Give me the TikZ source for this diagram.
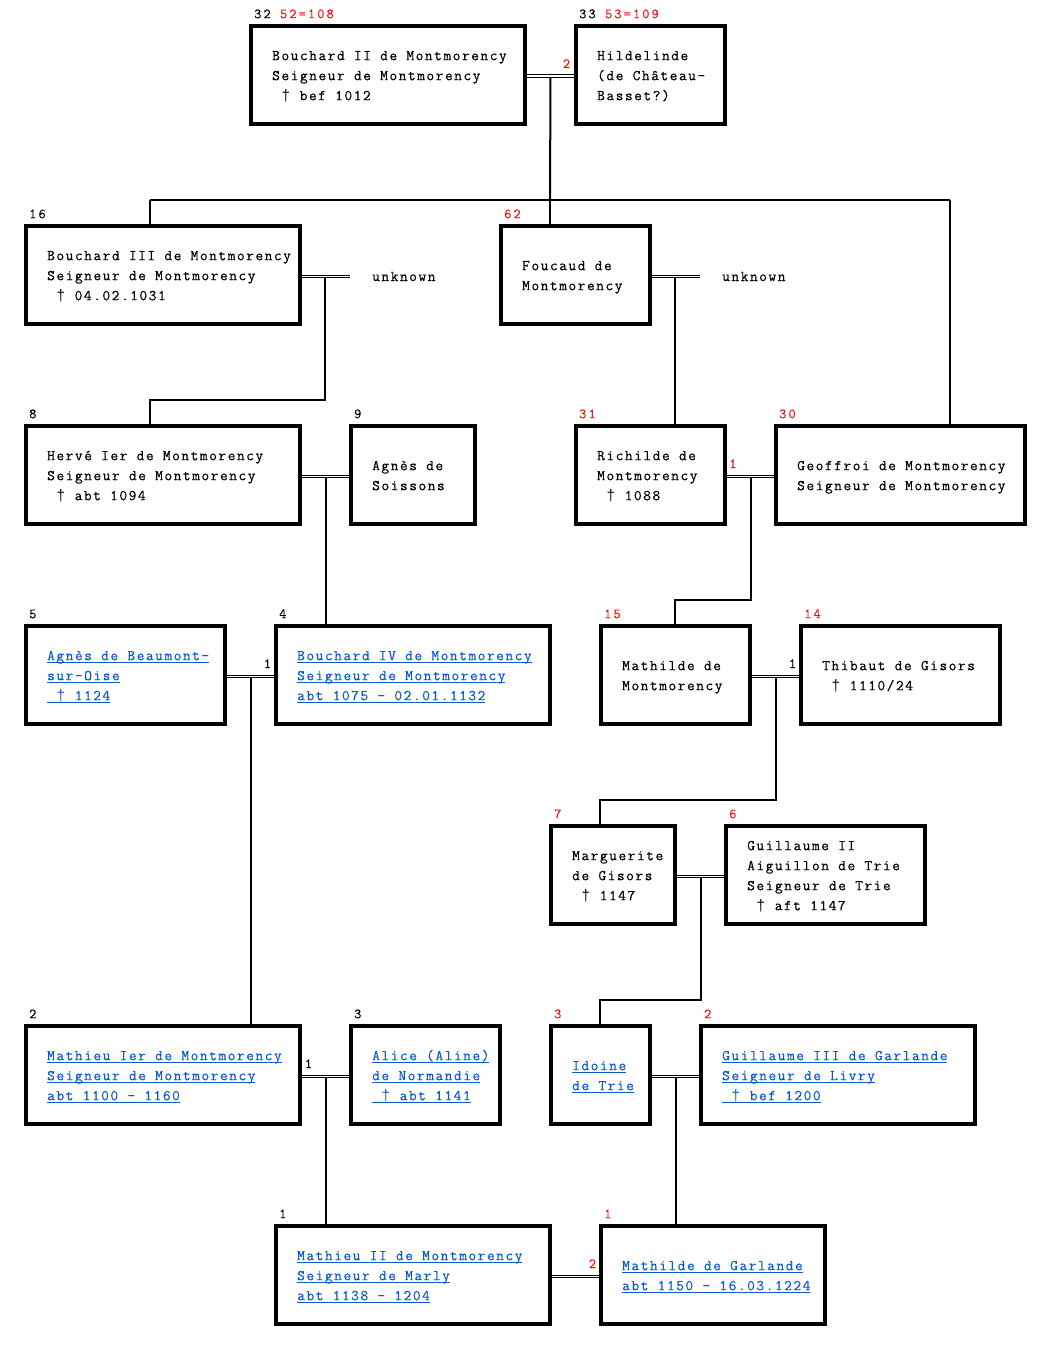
\documentclass[tikz,border=0pt]{standalone}
\usepackage{fontspec}
\newfontfamily\mono{Latin Modern Mono}[LetterSpace=10.2,FakeBold=0.4]
\newfontfamily\labmono{Latin Modern Mono}[LetterSpace=15,FakeBold=0.4]
\newfontfamily\dagf{Liberation Mono}
\usetikzlibrary{calc}
\pgfdeclarelayer{bg}
\pgfsetlayers{bg,main}
\definecolor{lnk}{RGB}{10,90,205}
\definecolor{lbred}{RGB}{240,20,20}
\newcommand\bodyfont{\mono\fontsize{15pt}{20pt}\selectfont}
\newcommand\labfont{\labmono\fontsize{14pt}{16pt}\selectfont}
\newcommand\dg{{\dagf †}}
\newcommand\pl[1]{\strut#1}
\newcommand\lk[1]{\strut\setbox0\hbox{#1}\rlap{\color{lnk}\rule[-3pt]{\wd0}{0.9pt}}\box0}
\tikzset{
  pbox/.style={draw, line width=3.5pt, outer sep=0pt, inner sep=0pt, minimum height=98pt},
  ptext/.style={font=\bodyfont, align=left, inner sep=0pt, anchor=west},
  lnktext/.style={ptext, text=lnk},
  lab/.style={font=\labfont, inner sep=0pt, anchor=base west},
  mnum/.style={font=\labfont, inner sep=0pt, anchor=base},
  conn/.style={line width=2pt},
  marr/.style={double, double distance=1.4pt, line width=1pt},
}
\begin{document}
\begin{tikzpicture}[x=1pt,y=-1pt]
\useasboundingbox (0,0) rectangle (1051,1351);
% ---------- boxes ----------
\node[pbox, minimum width=274pt] (b32) at (388,75.2) {};
\node[pbox, minimum width=149pt] (b33) at (650.5,75.2) {};
\node[pbox, minimum width=274pt] (b16) at (163,275.2) {};
\node[pbox, minimum width=149pt] (b62) at (575.5,275.2) {};
\node[pbox, minimum width=274pt] (b8) at (163,475.2) {};
\node[pbox, minimum width=124pt] (b9) at (413,475.2) {};
\node[pbox, minimum width=149pt] (b31) at (650.5,475.2) {};
\node[pbox, minimum width=249pt] (b30) at (900.5,475.2) {};
\node[pbox, minimum width=199pt] (b5) at (125.5,675.2) {};
\node[pbox, minimum width=274pt] (b4) at (413,675.2) {};
\node[pbox, minimum width=149pt] (b15) at (675.5,675.2) {};
\node[pbox, minimum width=199pt] (b14) at (900.5,675.2) {};
\node[pbox, minimum width=124pt] (b7) at (613,875.2) {};
\node[pbox, minimum width=199pt] (b6) at (825.5,875.2) {};
\node[pbox, minimum width=274pt] (b2) at (163,1075.2) {};
\node[pbox, minimum width=149pt] (b3) at (425.5,1075.2) {};
\node[pbox, minimum width=99pt] (bi) at (600.5,1075.2) {};
\node[pbox, minimum width=274pt] (bg) at (838,1075.2) {};
\node[pbox, minimum width=274pt] (b1) at (413,1275.2) {};
\node[pbox, minimum width=224pt] (bm) at (713,1275.2) {};
% ---------- texts ----------
\node[ptext] (t32) at ([xshift=21pt,yshift=-1pt]b32.west) {\pl{Bouchard II de Montmorency}\\\pl{Seigneur de Montmorency}\\\pl{~\dg{} bef 1012}};
\node[ptext] (t33) at ([xshift=21pt,yshift=-1pt]b33.west) {\pl{Hildelinde}\\\pl{(de Château-}\\\pl{Basset?)}};
\node[ptext] (t16) at ([xshift=21pt,yshift=-1pt]b16.west) {\pl{Bouchard III de Montmorency}\\\pl{Seigneur de Montmorency}\\\pl{~\dg{} 04.02.1031}};
\node[ptext] (t62) at ([xshift=21pt,yshift=-1pt]b62.west) {\pl{Foucaud de}\\\pl{Montmorency}};
\node[ptext] (t8) at ([xshift=21pt,yshift=-1pt]b8.west) {\pl{Hervé Ier de Montmorency}\\\pl{Seigneur de Montmorency}\\\pl{~\dg{} abt 1094}};
\node[ptext] (t9) at ([xshift=21pt,yshift=-1pt]b9.west) {\pl{Agnès de}\\\pl{Soissons}};
\node[ptext] (t31) at ([xshift=21pt,yshift=-1pt]b31.west) {\pl{Richilde de}\\\pl{Montmorency}\\\pl{~\dg{} 1088}};
\node[ptext] (t30) at ([xshift=21pt,yshift=-1pt]b30.west) {\pl{Geoffroi de Montmorency}\\\pl{Seigneur de Montmorency}};
\node[lnktext] (t5) at ([xshift=21pt,yshift=-1pt]b5.west) {\lk{Agnès de Beaumont-}\\\lk{sur-Oise}\\\lk{~\dg{} 1124}};
\node[lnktext] (t4) at ([xshift=21pt,yshift=-1pt]b4.west) {\lk{Bouchard IV de Montmorency}\\\lk{Seigneur de Montmorency}\\\lk{abt 1075 - 02.01.1132}};
\node[ptext] (t15) at ([xshift=21pt,yshift=-1pt]b15.west) {\pl{Mathilde de}\\\pl{Montmorency}};
\node[ptext] (t14) at ([xshift=21pt,yshift=-1pt]b14.west) {\pl{Thibaut de Gisors}\\\pl{~\dg{} 1110/24}};
\node[ptext] (t7) at ([xshift=21pt,yshift=-1pt]b7.west) {\pl{Marguerite}\\\pl{de Gisors}\\\pl{~\dg{} 1147}};
\node[ptext] (t6) at ([xshift=21pt,yshift=-1pt]b6.west) {\pl{Guillaume II}\\\pl{Aiguillon de Trie}\\\pl{Seigneur de Trie}\\\pl{~\dg{} aft 1147}};
\node[lnktext] (t2) at ([xshift=21pt,yshift=-1pt]b2.west) {\lk{Mathieu Ier de Montmorency}\\\lk{Seigneur de Montmorency}\\\lk{abt 1100 - 1160}};
\node[lnktext] (t3) at ([xshift=21pt,yshift=-1pt]b3.west) {\lk{Alice (Aline)}\\\lk{de Normandie}\\\lk{~\dg{} abt 1141}};
\node[lnktext] (ti) at ([xshift=21pt,yshift=-1pt]bi.west) {\lk{Idoine}\\\lk{de Trie}};
\node[lnktext] (tg) at ([xshift=21pt,yshift=-1pt]bg.west) {\lk{Guillaume III de Garlande}\\\lk{Seigneur de Livry}\\\lk{~\dg{} bef 1200}};
\node[lnktext] (t1) at ([xshift=21pt,yshift=-1pt]b1.west) {\lk{Mathieu II de Montmorency}\\\lk{Seigneur de Marly}\\\lk{abt 1138 - 1204}};
\node[lnktext] (tm) at ([xshift=21pt,yshift=-1pt]bm.west) {\lk{Mathilde de Garlande}\\\lk{abt 1150 - 16.03.1224}};
% ---------- number labels ----------
\node[lab] (l32) at ([xshift=3pt,yshift=8pt]b32.north west) {32 \textcolor{lbred}{52=108}};
\node[lab] (l33) at ([xshift=3pt,yshift=8pt]b33.north west) {33 \textcolor{lbred}{53=109}};
\node[lab] (l16) at ([xshift=3pt,yshift=8pt]b16.north west) {16};
\node[lab, text=lbred] (l62) at ([xshift=3pt,yshift=8pt]b62.north west) {62};
\node[lab] (l8) at ([xshift=3pt,yshift=8pt]b8.north west) {8};
\node[lab] (l9) at ([xshift=3pt,yshift=8pt]b9.north west) {9};
\node[lab, text=lbred] (l31) at ([xshift=3pt,yshift=8pt]b31.north west) {31};
\node[lab, text=lbred] (l30) at ([xshift=3pt,yshift=8pt]b30.north west) {30};
\node[lab] (l5) at ([xshift=3pt,yshift=8pt]b5.north west) {5};
\node[lab] (l4) at ([xshift=3pt,yshift=8pt]b4.north west) {4};
\node[lab, text=lbred] (l15) at ([xshift=3pt,yshift=8pt]b15.north west) {15};
\node[lab, text=lbred] (l14) at ([xshift=3pt,yshift=8pt]b14.north west) {14};
\node[lab, text=lbred] (l7) at ([xshift=3pt,yshift=8pt]b7.north west) {7};
\node[lab, text=lbred] (l6) at ([xshift=3pt,yshift=8pt]b6.north west) {6};
\node[lab] (l2) at ([xshift=3pt,yshift=8pt]b2.north west) {2};
\node[lab] (l3) at ([xshift=3pt,yshift=8pt]b3.north west) {3};
\node[lab, text=lbred] (li) at ([xshift=3pt,yshift=8pt]bi.north west) {3};
\node[lab, text=lbred] (lg) at ([xshift=3pt,yshift=8pt]bg.north west) {2};
\node[lab] (l1) at ([xshift=3pt,yshift=8pt]b1.north west) {1};
\node[lab, text=lbred] (lm) at ([xshift=3pt,yshift=8pt]bm.north west) {1};
% ---------- marriage numbers ----------
\node[mnum, text=lbred] (n1) at (566.5,68) {2};
\node[mnum, text=lbred] (n2) at (733,468) {1};
\node[mnum] (n3) at (267.5,668) {1};
\node[mnum] (n4) at (792.5,668) {1};
\node[mnum] (n5) at (308.5,1068) {1};
\node[mnum, text=lbred] (n6) at (592.5,1268) {2};
% ---------- unknown partners ----------
\coordinate (u1) at (350,275.2);
\coordinate (u2) at (700,275.2);
\node[ptext, anchor=base west] (unk1) at (372,281) {unknown};
\node[ptext, anchor=base west] (unk2) at (722,281) {unknown};
% ---------- connectors ----------
\begin{pgfonlayer}{bg}
\coordinate (m1) at ($(b32.east)!0.5!(b33.west)$);
\coordinate (m2) at ($(b16.east)!0.5!(u1)$);
\coordinate (m3) at ($(b62.east)!0.5!(u2)$);
\coordinate (m4) at ($(b8.east)!0.5!(b9.west)$);
\coordinate (m5) at ($(b31.east)!0.5!(b30.west)$);
\coordinate (m6) at ($(b5.east)!0.5!(b4.west)$);
\coordinate (m7) at ($(b15.east)!0.5!(b14.west)$);
\coordinate (m8) at ($(b7.east)!0.5!(b6.west)$);
\coordinate (m9) at ($(b2.east)!0.5!(b3.west)$);
\coordinate (m10) at ($(bi.east)!0.5!(bg.west)$);
\coordinate (m11) at ($(b1.east)!0.5!(bm.west)$);
\coordinate (j1) at (550,200);
\coordinate (ja) at (150,200);
\coordinate (jb) at (950,200);
\coordinate (j2) at (150,400);
\coordinate (j3) at (675,600);
\coordinate (j4) at (600,800);
\coordinate (j5) at (600,1000);
% descent lines
\draw[conn] (m1) -- (j1);
\draw[conn] (ja) -- (jb);
\draw[conn] (ja) -- (b16.north -| ja);
\draw[conn] (j1) -- (b62.north -| j1);
\draw[conn] (jb) -- (b30.north -| jb);
\draw[conn] (m2) |- (j2) -- (b8.north -| j2);
\draw[conn] (m3) -- (b31.north -| m3);
\draw[conn] (m4) -- (b4.north -| m4);
\draw[conn] (m5) |- (j3) -- (b15.north -| j3);
\draw[conn] (m6) -- (b2.north -| m6);
\draw[conn] (m7) |- (j4) -- (b7.north -| j4);
\draw[conn] (m8) |- (j5) -- (bi.north -| j5);
\draw[conn] (m9) -- (b1.north -| m9);
\draw[conn] (m10) -- (bm.north -| m10);
% marriage double lines
\draw[marr] ([yshift=-1pt]b32.east) -- ([yshift=-1pt]b33.west);
\draw[marr] ([yshift=-1pt]b16.east) -- ([yshift=-1pt]u1);
\draw[marr] ([yshift=-1pt]b62.east) -- ([yshift=-1pt]u2);
\draw[marr] ([yshift=-1pt]b8.east) -- ([yshift=-1pt]b9.west);
\draw[marr] ([yshift=-1pt]b31.east) -- ([yshift=-1pt]b30.west);
\draw[marr] ([yshift=-1pt]b5.east) -- ([yshift=-1pt]b4.west);
\draw[marr] ([yshift=-1pt]b15.east) -- ([yshift=-1pt]b14.west);
\draw[marr] ([yshift=-1pt]b7.east) -- ([yshift=-1pt]b6.west);
\draw[marr] ([yshift=-1pt]b2.east) -- ([yshift=-1pt]b3.west);
\draw[marr] ([yshift=-1pt]bi.east) -- ([yshift=-1pt]bg.west);
\draw[marr] ([yshift=-1pt]b1.east) -- ([yshift=-1pt]bm.west);
\end{pgfonlayer}
\end{tikzpicture}
\end{document}
